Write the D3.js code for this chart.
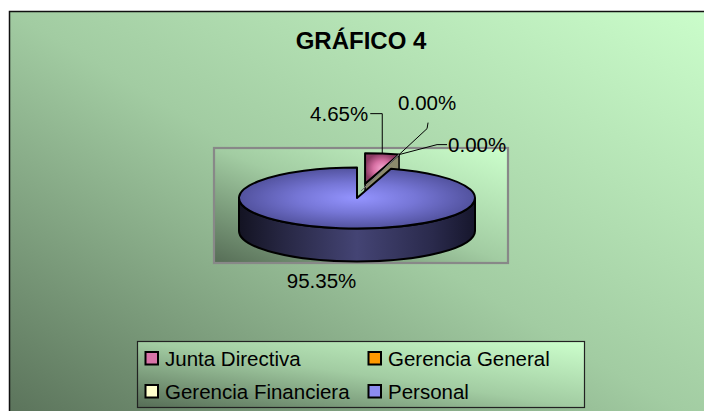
<!DOCTYPE html>
<html>
<head>
<meta charset="utf-8">
<script src="https://cdn.jsdelivr.net/npm/d3@7"></script>
<style>
html,body{margin:0;padding:0;background:#fff;}
svg{display:block;font-family:"Liberation Sans",Arial,sans-serif;}
</style>
</head>
<body>
<svg id="chart" width="704" height="411"></svg>
<script>
// ---- data ----
const title = "GRÁFICO 4";
const categories = ["Junta Directiva", "Gerencia General", "Gerencia Financiera", "Personal"];
const values = [4.65, 0.00, 0.00, 95.35];
const valueLabels = ["4.65%", "0.00%", "0.00%", "95.35%"];
const exploded = [0.47, 0, 0, 0];

// ---- layout / style ----
const W = 704, H = 411;
const cx = 357, cy = 198, rx = 118, ry = 30.5, depth = 33;
const topColors = [["#f4a8d0", "#d870a4", "#8a3a62"], ["#ffc060", "#ff9900", "#b06000"],
                   ["#ffffee", "#ffffcc", "#b0b090"], ["#9494ff", "#7676d6", "#52529e"]];
const legendColors = ["#d874a8", "#ff9900", "#ffffcc", "#8c8cf0"];
// label placement relative to the leader anchor (layout only)
const labelLayout = [
  {path: [[0, -40], [-12, -40]], text: [-14, -33], anchor: "end"},
  {path: [[28, -26], [29, -32]], text: [-1, -45], anchor: "start"},
  {path: [[38, -10], [48, -10]], text: [49, -3], anchor: "start"},
  {path: null, text: [-53, 27], anchor: "start"}
];

const svg = d3.select("#chart");
const defs = svg.append("defs");

function bgGrad(id) {
  const g = defs.append("linearGradient").attr("id", id)
    .attr("x1", 0).attr("y1", 1).attr("x2", 1).attr("y2", 0);
  g.append("stop").attr("offset", 0).attr("stop-color", "#566d56");
  g.append("stop").attr("offset", 0.5).attr("stop-color", "#a2cca2");
  g.append("stop").attr("offset", 1).attr("stop-color", "#ccffcc");
}
bgGrad("bgChart"); bgGrad("bgPlot"); bgGrad("bgLegend");

topColors.forEach((c, i) => {
  const g = defs.append("radialGradient").attr("id", "top" + i)
    .attr("cx", 0.5).attr("cy", 0.5).attr("r", 0.5);
  g.append("stop").attr("offset", 0).attr("stop-color", c[0]);
  g.append("stop").attr("offset", 0.5).attr("stop-color", c[1]);
  g.append("stop").attr("offset", 1).attr("stop-color", c[2]);
});
const wallG = defs.append("linearGradient").attr("id", "wall").attr("x1", 0).attr("x2", 1).attr("y1", 0).attr("y2", 0);
[[0, "#131322"], [0.18, "#262642"], [0.5, "#444474"], [0.82, "#2a2a4c"], [1, "#16162c"]]
  .forEach(s => wallG.append("stop").attr("offset", s[0]).attr("stop-color", s[1]));

// chart area
svg.append("rect").attr("x", 9.5).attr("y", 11.5).attr("width", W + 20).attr("height", H + 20)
  .attr("fill", "url(#bgChart)").attr("stroke", "#111").attr("stroke-width", 1.5);

// plot area
svg.append("rect").attr("x", 214).attr("y", 148).attr("width", 294).attr("height", 115)
  .attr("fill", "url(#bgPlot)").attr("stroke", "#888").attr("stroke-width", 2.2);

// ---- pie geometry ----
const sx = d3.scaleLinear().domain([-1, 1]).range([cx - rx, cx + rx]);
const sy = d3.scaleLinear().domain([-1, 1]).range([cy - ry, cy + ry]);
const arcs = d3.pie().sort(null).value(d => d)(values);

function offsetOf(i) {
  const a = arcs[i], e = exploded[i], m = (a.startAngle + a.endAngle) / 2;
  return [rx * e * Math.sin(m), -ry * e * Math.cos(m)];
}
function pt(a, off, dz) {
  return [sx(Math.sin(a)) + off[0], sy(-Math.cos(a)) + off[1] + (dz || 0)];
}
function center(off, dz) { return [sx(0) + off[0], sy(0) + off[1] + (dz || 0)]; }
function topPath(i) {
  const a = arcs[i], off = offsetOf(i);
  const c = center(off), p0 = pt(a.startAngle, off), p1 = pt(a.endAngle, off);
  const large = (a.endAngle - a.startAngle) > Math.PI ? 1 : 0;
  return `M${c}L${p0}A${rx},${ry} 0 ${large} 1 ${p1}Z`;
}
function facePath(i, ang) {
  const off = offsetOf(i);
  const c = center(off), p = pt(ang, off), pd = pt(ang, off, depth), cd = center(off, depth);
  return `M${c}L${p}L${pd}L${cd}Z`;
}
function wallPath(i) {
  const a = arcs[i], off = offsetOf(i);
  const s = Math.max(a.startAngle, Math.PI / 2), e = Math.min(a.endAngle, 3 * Math.PI / 2);
  if (e <= s) return null;
  const p0 = pt(s, off), p1 = pt(e, off), q1 = pt(e, off, depth), q0 = pt(s, off, depth);
  return `M${p0}A${rx},${ry} 0 0 1 ${p1}L${q1}A${rx},${ry} 0 0 0 ${q0}Z`;
}

const pieG = svg.append("g");
// draw exploded (back) slices first, then the rest
const order = d3.range(values.length).sort((a, b) => exploded[b] - exploded[a]);
order.forEach(i => {
  const a = arcs[i];
  if (a.endAngle - a.startAngle <= 0) return;
  if (Math.sin(a.endAngle) > 0.01)
    pieG.append("path").attr("d", facePath(i, a.endAngle))
      .attr("fill", "#8c8a6c").attr("stroke", "#000").attr("stroke-width", 1.5).attr("stroke-linejoin", "round");
  if (Math.sin(a.startAngle) < -0.01)
    pieG.append("path").attr("d", facePath(i, a.startAngle))
      .attr("fill", "#8c8a6c").attr("stroke", "#000").attr("stroke-width", 1.5);
  const w = wallPath(i);
  if (w) pieG.append("path").attr("d", w).attr("fill", "url(#wall)")
    .attr("stroke", "#000").attr("stroke-width", 2);
  pieG.append("path").attr("d", topPath(i)).attr("fill", `url(#top${i})`)
    .attr("stroke", "#000").attr("stroke-width", 2).attr("stroke-linejoin", "round");
});
// zero-width slices drawn as thin lines
arcs.forEach((a, i) => {
  if (a.endAngle - a.startAngle > 0) return;
  const off = offsetOf(0);
  pieG.append("path").attr("d", `M${center([off[0]*0.5, off[1]*0.5])}L${pt(a.startAngle, off)}`)
    .attr("stroke", "#777").attr("stroke-width", 1);
});

// ---- data labels with leader lines ----
const labG = svg.append("g").attr("font-size", "20.5px").attr("fill", "#000");
arcs.forEach((a, i) => {
  const L = labelLayout[i];
  let anc;
  if (i === 0) {
    anc = pt((a.startAngle + a.endAngle) / 2, offsetOf(0));
  } else if (values[i] === 0) {
    anc = pt(a.startAngle, offsetOf(0));
  } else {
    anc = pt((a.startAngle + a.endAngle) / 2, [0, 0], depth);
  }
  if (L.path) {
    const pts = [anc].concat(L.path.map(p => [anc[0] + p[0], anc[1] + p[1]]));
    labG.append("path").attr("d", d3.line()(pts)).attr("fill", "none")
      .attr("stroke", "#000").attr("stroke-width", 1);
  }
  labG.append("text").attr("x", anc[0] + L.text[0]).attr("y", anc[1] + L.text[1])
    .attr("text-anchor", L.anchor).text(valueLabels[i]);
});

// title
svg.append("text").attr("x", 361).attr("y", 49).attr("text-anchor", "middle")
  .attr("font-size", "24px").attr("font-weight", "bold").attr("fill", "#000").text(title);

// ---- legend ----
const lg = svg.append("g");
lg.append("rect").attr("x", 137.5).attr("y", 341.5).attr("width", 447).attr("height", 66)
  .attr("fill", "url(#bgLegend)").attr("stroke", "#222").attr("stroke-width", 1.2);
const colX = [145.5, 368.5], rowY = [352, 385];
categories.forEach((c, i) => {
  const x = colX[i % 2], y = rowY[Math.floor(i / 2)];
  lg.append("rect").attr("x", x).attr("y", y).attr("width", 12.5).attr("height", 12.5)
    .attr("fill", legendColors[i]).attr("stroke", "#000").attr("stroke-width", 2);
  lg.append("text").attr("x", x + 19.5).attr("y", y + 13.5).attr("font-size", "20.5px")
    .attr("fill", "#000").text(c);
});
</script>
</body>
</html>
